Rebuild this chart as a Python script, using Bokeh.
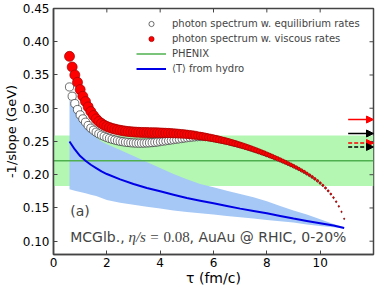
from bokeh.plotting import figure
from bokeh.models import (Range1d, FixedTicker, PrintfTickFormatter, Legend,
                          LegendItem, Label, Arrow, NormalHead, ColumnDataSource)
from bokeh.embed import file_html
from bokeh.resources import INLINE

# ---------------- data ----------------
X_MIN, X_MAX = 0.0, 12.0
Y_MIN, Y_MAX = 0.08, 0.45
x_ticks = [0, 2, 4, 6, 8, 10]
y_ticks = [0.10, 0.15, 0.20, 0.25, 0.30, 0.35, 0.40, 0.45]

tau = [0.6, 0.7, 0.8, 0.9, 1.0, 1.1, 1.2, 1.3, 1.4, 1.5,
       1.6, 1.7, 1.8, 1.9, 2.0, 2.1, 2.2, 2.3, 2.4, 2.5,
       2.6, 2.7, 2.8, 2.9, 3.0, 3.1, 3.2, 3.3, 3.4, 3.5,
       3.6, 3.7, 3.8, 3.9, 4.0, 4.1, 4.2, 4.3, 4.4, 4.5,
       4.6, 4.7, 4.8, 4.9, 5.0, 5.1, 5.2, 5.3, 5.4, 5.5,
       5.6, 5.7, 5.8, 5.9, 6.0, 6.1, 6.2, 6.3, 6.4, 6.5,
       6.6, 6.7, 6.8, 6.9, 7.0, 7.1, 7.2, 7.3, 7.4, 7.5,
       7.6, 7.7, 7.8, 7.9, 8.0, 8.1, 8.2, 8.3, 8.4, 8.5,
       8.6, 8.7, 8.8, 8.9, 9.0, 9.1, 9.2, 9.3, 9.4, 9.5,
       9.6, 9.7, 9.8, 9.9, 10.0, 10.1, 10.2, 10.3, 10.4, 10.5,
       10.6, 10.7, 10.8, 10.9]

slope_viscous = [0.378, 0.362, 0.350, 0.339, 0.328, 0.318, 0.310, 0.302, 0.295, 0.289,
                 0.284, 0.280, 0.277, 0.2745, 0.2725, 0.271, 0.2697, 0.2686, 0.2676, 0.2668,
                 0.2661, 0.2655, 0.265, 0.2646, 0.2643, 0.264, 0.2638, 0.2636, 0.2635, 0.2634,
                 0.2633, 0.2632, 0.2632, 0.2631, 0.263, 0.2629, 0.2628, 0.2627, 0.2625, 0.2623,
                 0.2621, 0.2618, 0.2615, 0.2612, 0.2608, 0.2604, 0.2599, 0.2594, 0.2588, 0.2582,
                 0.2576, 0.2569, 0.2562, 0.2555, 0.2547, 0.2539, 0.253, 0.2521, 0.2512, 0.2502,
                 0.2492, 0.2481, 0.247, 0.2459, 0.2447, 0.2435, 0.2422, 0.2409, 0.2396, 0.2382,
                 0.2368, 0.2353, 0.2338, 0.2323, 0.2307, 0.2291, 0.2275, 0.2258, 0.2241, 0.2224,
                 0.2206, 0.2188, 0.2169, 0.215, 0.213, 0.211, 0.2089, 0.2067, 0.2044, 0.202,
                 0.1995, 0.1968, 0.194, 0.191, 0.1877, 0.1842, 0.1803, 0.176, 0.1712, 0.1658,
                 0.1597, 0.1527, 0.1445, 0.134]

slope_equilibrium = [0.332, 0.318, 0.307, 0.298, 0.290, 0.284, 0.279, 0.274, 0.270, 0.267,
                     0.264, 0.2615, 0.2595, 0.2577, 0.256, 0.2546, 0.2533, 0.2522, 0.2512, 0.2503,
                     0.2496, 0.249, 0.2485, 0.2481, 0.2478, 0.2476, 0.2475, 0.2475, 0.2476, 0.2478,
                     0.248, 0.2483, 0.2487, 0.2491, 0.2495, 0.25, 0.2505, 0.251, 0.2515, 0.252,
                     0.2525, 0.253, 0.2535, 0.254, 0.2545, 0.2549, 0.2553, 0.2556, 0.2558, 0.2559,
                     0.2559, 0.2558, 0.2555, 0.2548, 0.254, 0.2531, 0.2522, 0.2513, 0.2504, 0.2494,
                     0.2484, 0.2473, 0.2462, 0.2451, 0.2439, 0.2427, 0.2414, 0.2401, 0.2388, 0.2374,
                     0.236, 0.2345, 0.233, 0.2315, 0.2299, 0.2283, 0.2267, 0.225, 0.2233, 0.2216,
                     0.2198, 0.218, 0.2161, 0.2142, 0.2122, 0.2102, 0.2081, 0.2059, 0.2036, 0.2012,
                     0.1987, 0.196, 0.1932, 0.1902, 0.1869, 0.1834, 0.1795, 0.1752, 0.1704, 0.165,
                     0.1589, 0.1519, 0.1437, 0.1332]

tau_T = [0.6, 0.8, 1.0, 1.2, 1.4, 1.6, 1.8, 2.0, 2.5, 3.0, 3.5, 4.0, 4.5,
         5.0, 5.5, 6.0, 6.5, 7.0, 7.5, 8.0, 8.5, 9.0, 9.5, 10.0, 10.5, 10.9]
T_mean = [0.250, 0.238, 0.228, 0.221, 0.215, 0.210, 0.205, 0.201, 0.193, 0.186, 0.180, 0.175, 0.170,
          0.165, 0.161, 0.157, 0.153, 0.149, 0.1455, 0.142, 0.138, 0.134, 0.1305, 0.127, 0.1235, 0.120]
T_high = [0.313, 0.297, 0.283, 0.272, 0.263, 0.256, 0.250, 0.246, 0.237, 0.228, 0.219, 0.210, 0.201,
          0.193, 0.186, 0.181, 0.176, 0.171, 0.166, 0.160, 0.153, 0.146, 0.140, 0.133, 0.126, 0.121]
T_low = [0.178, 0.176, 0.174, 0.172, 0.170, 0.168, 0.165, 0.162, 0.158, 0.155, 0.152, 0.149, 0.146,
         0.144, 0.142, 0.140, 0.138, 0.136, 0.134, 0.132, 0.130, 0.128, 0.125, 0.123, 0.121, 0.119]

phenix_value = 0.221
phenix_error = 0.038

arrow_values = [0.283, 0.262, 0.2477, 0.2418]

# ---------------- styles / layout ----------------
arrow_colors = ["#ff0000", "#000000", "#ff0000", "#000000"]
arrow_dashes = ["solid", "solid", "4 2", "4 2"]
ARROW_X0 = 11.05

W, H = 390, 288
B_LEFT, B_RIGHT, B_TOP, B_BOTTOM = 52, 17, 8, 32
FRAME_W = W - B_LEFT - B_RIGHT
FRAME_H = H - B_TOP - B_BOTTOM
TICK_PX = 4
AX_COLOR = "#444444"
FONT = "DejaVu Sans"

def marker_size(t):
    return 1.0 + min(9.0, 1.25 * max(10.95 - t, 0.0))

red_sizes = [marker_size(t) for t in tau]
white_sizes = [0.82 * s for s in red_sizes]

p = figure(width=W, height=H, output_backend="svg", toolbar_location=None,
           x_range=Range1d(X_MIN, X_MAX), y_range=Range1d(Y_MIN, Y_MAX),
           min_border_left=B_LEFT, min_border_right=B_RIGHT,
           min_border_top=B_TOP, min_border_bottom=B_BOTTOM)
p.xgrid.visible = False
p.ygrid.visible = False
p.outline_line_color = AX_COLOR
p.outline_line_width = 1.5
p.background_fill_color = "white"

# bands and lines
p.quad(left=[X_MIN], right=[X_MAX], bottom=[phenix_value - phenix_error],
       top=[phenix_value + phenix_error], fill_color="#b3f7b3", line_color=None)
p.varea(x=tau_T, y1=T_low, y2=T_high, fill_color="#a6c8f6")
r_phenix = p.line(x=[X_MIN, X_MAX], y=[phenix_value, phenix_value],
                  line_color="#4fb04f", line_width=1.5)
r_T = p.line(x=tau_T, y=T_mean, line_color="#0000e6", line_width=2)

src_eq = ColumnDataSource(dict(x=tau, y=slope_equilibrium, s=white_sizes))
src_vi = ColumnDataSource(dict(x=tau, y=slope_viscous, s=red_sizes))
r_eq = p.scatter(x="x", y="y", size="s", source=src_eq, marker="circle",
                 fill_color="white", line_color="#333333", line_width=0.7)
r_vi = p.scatter(x="x", y="y", size="s", source=src_vi, marker="circle",
                 fill_color="#ff0000", line_color="#a00000", line_width=0.7)

for v, c, d in zip(arrow_values, arrow_colors, arrow_dashes):
    p.add_layout(Arrow(end=NormalHead(size=7, fill_color=c, line_color=c, line_width=1),
                       x_start=ARROW_X0, y_start=v, x_end=X_MAX, y_end=v,
                       line_color=c, line_width=1.5, line_dash=d))

# inward tick marks on the right and top edges (mirroring the axis ticks)
dx = TICK_PX * (X_MAX - X_MIN) / FRAME_W
dy = TICK_PX * (Y_MAX - Y_MIN) / FRAME_H
p.segment(x0=[X_MAX] * len(y_ticks), x1=[X_MAX - dx] * len(y_ticks), y0=y_ticks, y1=y_ticks,
          line_color=AX_COLOR, line_width=1)
p.segment(x0=x_ticks, x1=x_ticks, y0=[Y_MAX] * len(x_ticks), y1=[Y_MAX - dy] * len(x_ticks),
          line_color=AX_COLOR, line_width=1)

# axes
for ax in (p.xaxis[0], p.yaxis[0]):
    ax.major_tick_in = TICK_PX
    ax.major_tick_out = 0
    ax.minor_tick_in = 0
    ax.minor_tick_out = 0
    ax.axis_line_color = AX_COLOR
    ax.axis_line_width = 1.5
    ax.major_tick_line_color = AX_COLOR
    ax.major_label_text_font = FONT
    ax.major_label_text_font_size = "12px"
    ax.major_label_text_color = "black"
    ax.axis_label_text_font = FONT
    ax.axis_label_text_font_style = "normal"
    ax.axis_label_text_color = "black"

p.xaxis[0].ticker = FixedTicker(ticks=x_ticks)
p.yaxis[0].ticker = FixedTicker(ticks=y_ticks)
p.yaxis[0].formatter = PrintfTickFormatter(format="%.2f")
p.xaxis[0].axis_label = "τ (fm/c)"
p.yaxis[0].axis_label = "-1/slope (GeV)"
p.xaxis[0].axis_label_text_font_size = "14px"
p.yaxis[0].axis_label_text_font_size = "13px"
p.xaxis[0].major_label_standoff = 3
p.xaxis[0].axis_label_standoff = 0
p.yaxis[0].major_label_standoff = 4
p.yaxis[0].axis_label_standoff = 1

# legend
legend = Legend(items=[
    LegendItem(label="photon spectrum w. equilibrium rates", renderers=[r_eq]),
    LegendItem(label="photon spectrum w. viscous rates", renderers=[r_vi]),
    LegendItem(label="PHENIX", renderers=[r_phenix]),
    LegendItem(label="⟨T⟩ from hydro", renderers=[r_T]),
], location=(83, 179), border_line_color=None, background_fill_alpha=0,
    label_text_font=FONT, label_text_font_size="10px", glyph_width=30, glyph_height=13,
    label_height=13, spacing=2, padding=0, margin=0, label_standoff=6)
p.add_layout(legend)

# annotations
p.add_layout(Label(x=16.7, y=44, x_units="screen", y_units="screen", text="(a)",
                   text_font=FONT, text_font_size="14px", text_baseline="middle"))
p.add_layout(Label(x=16.7, y=18, x_units="screen", y_units="screen", text="MCGlb.,",
                   text_font=FONT, text_font_size="14px", text_baseline="middle"))
p.add_layout(Label(x=75, y=18, x_units="screen", y_units="screen", text="η/s",
                   text_font="Liberation Serif", text_font_style="italic",
                   text_font_size="15px", text_baseline="middle"))
p.add_layout(Label(x=101, y=18, x_units="screen", y_units="screen", text="=",
                   text_font="Liberation Serif", text_font_size="15px",
                   text_baseline="middle", text_align="center"))
p.add_layout(Label(x=110, y=18, x_units="screen", y_units="screen", text="0.08",
                   text_font="Liberation Serif", text_font_size="15px", text_baseline="middle"))
p.add_layout(Label(x=136, y=18, x_units="screen", y_units="screen", text=", AuAu @ RHIC, 0-20%",
                   text_font=FONT, text_font_size="14px", text_baseline="middle"))

open("out.html", "w").write(file_html(p, INLINE))
